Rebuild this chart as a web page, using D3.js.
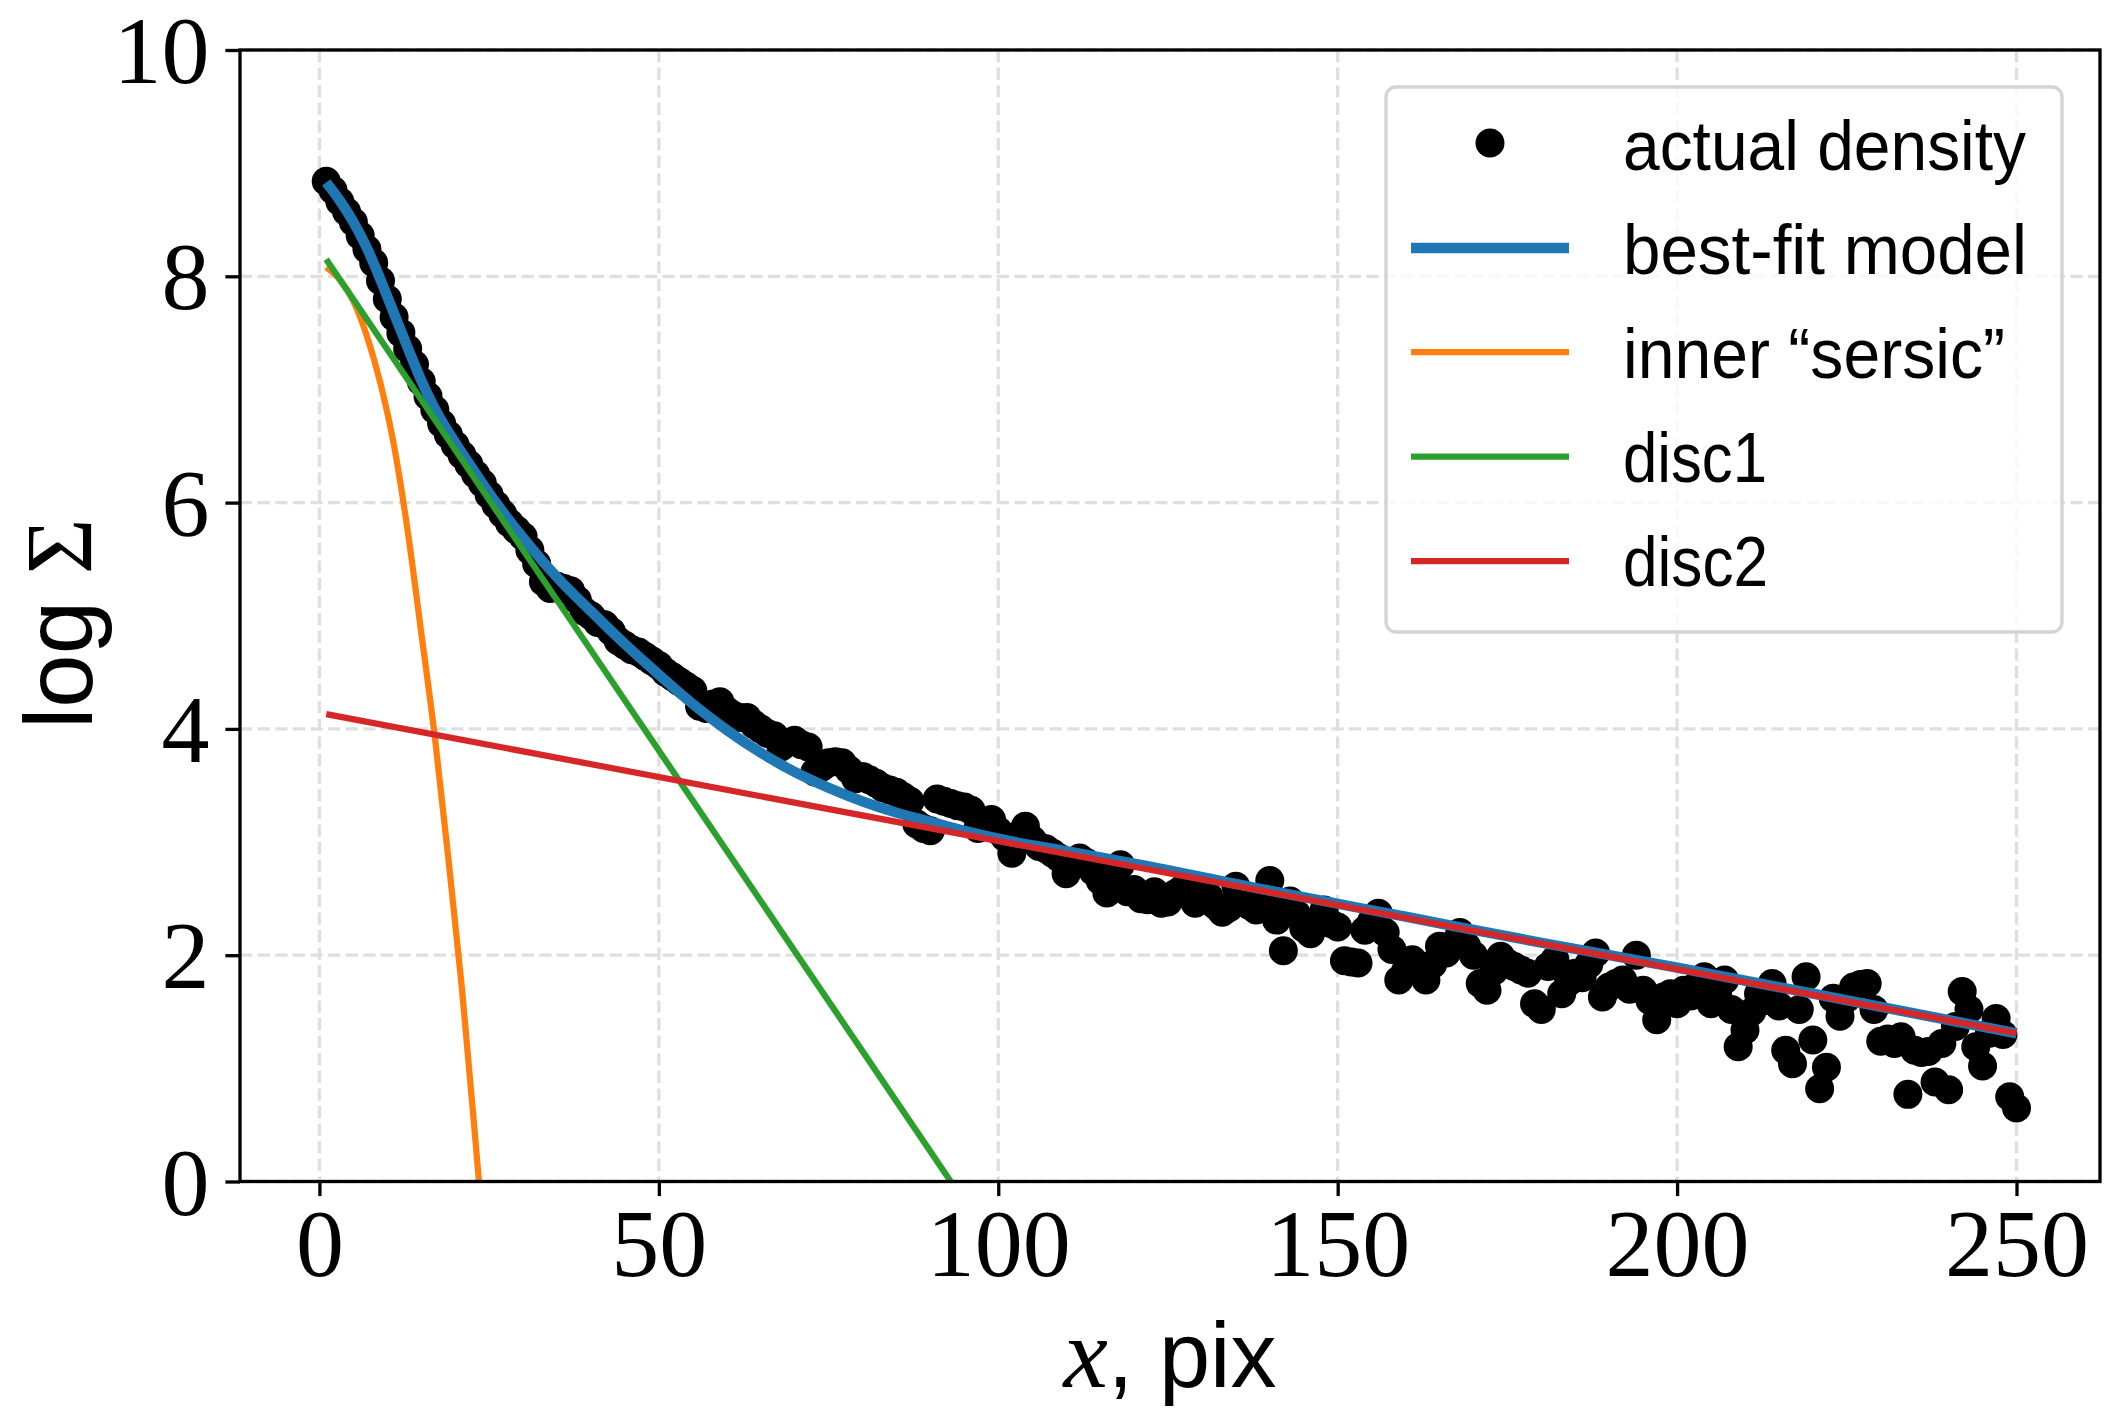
<!DOCTYPE html>
<html><head><meta charset="utf-8">
<script src="https://cdn.jsdelivr.net/npm/d3@7"></script>
<style>body{margin:0;background:#fff;} svg{display:block;}</style>
</head><body>
<script>
// ---------- data ----------
const xTicks = [0, 50, 100, 150, 200, 250];
const yTicks = [0, 2, 4, 6, 8, 10];
const legendLabels = ["actual density", "best-fit model", "inner \u201csersic\u201d", "disc1", "disc2"];

// measured log surface density at pixel positions 1..250
const densityX = d3.range(1, 251);
const densityY = [
  8.84, 8.76, 8.66, 8.57, 8.48, 8.36, 8.24, 8.12, 7.96, 7.80,
  7.64, 7.50, 7.36, 7.22, 7.07, 6.94, 6.82, 6.70, 6.60, 6.51,
  6.42, 6.34, 6.25, 6.17, 6.07, 5.98, 5.90, 5.82, 5.76, 5.70,
  5.58, 5.46, 5.30, 5.24, 5.26, 5.24, 5.22, 5.14, 5.04, 5.00,
  4.94, 4.92, 4.86, 4.78, 4.74, 4.70, 4.68, 4.64, 4.60, 4.56,
  4.50, 4.46, 4.42, 4.38, 4.34, 4.20, 4.18, 4.22, 4.24, 4.16,
  4.12, 4.10, 4.10, 4.04, 4.00, 3.96, 3.94, 3.84, 3.88, 3.90,
  3.86, 3.84, 3.62, 3.66, 3.70, 3.71, 3.70, 3.64, 3.56, 3.58,
  3.55, 3.52, 3.48, 3.46, 3.44, 3.40, 3.36, 3.16, 3.12, 3.10,
  3.38, 3.36, 3.34, 3.32, 3.31, 3.28, 3.12, 3.18, 3.20, 3.10,
  3.04, 2.90, 3.06, 3.14, 3.02, 2.96, 2.94, 2.90, 2.86, 2.72,
  2.80, 2.86, 2.82, 2.74, 2.66, 2.55, 2.70, 2.80, 2.56, 2.58,
  2.50, 2.49, 2.56, 2.46, 2.47, 2.54, 2.58, 2.62, 2.46, 2.50,
  2.52, 2.44, 2.38, 2.42, 2.61, 2.52, 2.44, 2.40, 2.46, 2.66,
  2.31, 2.04, 2.48, 2.36, 2.24, 2.19, 2.30, 2.40, 2.28, 2.25,
  1.95, 1.94, 1.93, 2.22, 2.30, 2.37, 2.20, 2.05, 1.78, 1.86,
  1.96, 1.90, 1.78, 1.92, 2.08, 2.02, 2.10, 2.20, 2.08, 2.00,
  1.75, 1.69, 1.86, 1.99, 1.93, 1.90, 1.87, 1.84, 1.57, 1.52,
  1.90, 1.96, 1.66, 1.76, 1.84, 1.80, 1.92, 2.02, 1.63, 1.72,
  1.75, 1.78, 1.70, 2.00, 1.69, 1.60, 1.43, 1.63, 1.66, 1.57,
  1.69, 1.64, 1.74, 1.81, 1.57, 1.64, 1.78, 1.52, 1.19, 1.34,
  1.50, 1.66, 1.60, 1.75, 1.55, 1.16, 1.04, 1.52, 1.81, 1.25,
  0.82, 1.01, 1.62, 1.46, 1.62, 1.72, 1.74, 1.75, 1.52, 1.24,
  1.26, 1.22, 1.28, 0.77, 1.16, 1.14, 1.15, 0.88, 1.22, 0.81,
  1.37, 1.68, 1.52, 1.19, 1.02, 1.31, 1.44, 1.30, 0.75, 0.65
];

// best-fit model (total)
const modelX = [1, 3, 5, 7, 9, 11, 13, 15, 17, 20, 23, 26, 30, 35, 40, 45, 50, 55, 60, 65, 70, 75, 80, 85, 90, 95, 100, 110, 120, 140, 160, 180, 200, 220, 250];
const modelY = [8.83, 8.67, 8.48, 8.25, 7.97, 7.67, 7.37, 7.08, 6.83, 6.53, 6.26, 6.00, 5.69, 5.34, 5.04, 4.75, 4.48, 4.22, 3.99, 3.79, 3.62, 3.48, 3.36, 3.26, 3.18, 3.10, 3.03, 2.92, 2.81, 2.57, 2.34, 2.11, 1.89, 1.66, 1.31];

// inner "sersic" component
const sersicX = [1, 3, 5, 7, 9, 11, 13, 15, 17, 19, 21, 23, 24];
const sersicY = [8.08, 7.97, 7.78, 7.47, 7.05, 6.50, 5.75, 4.85, 3.93, 2.85, 1.70, 0.35, -0.35];

// disc1 component
const disc1X = [1, 93, 100];
const disc1Y = [8.15, 0.0, -0.62];

// disc2 component
const disc2X = [1, 250];
const disc2Y = [4.13, 1.31];

// ---------- chart ----------
const W = 2115, H = 1420;
const L = 240, R = 2100, T = 50, B = 1181.5;
const x = d3.scaleLinear().domain([-11.7, 262.3]).range([L, R]);
const y = d3.scaleLinear().domain([0, 10]).range([B, T]);

const svg = d3.select("body").append("svg").attr("width", W).attr("height", H);
svg.append("rect").attr("width", W).attr("height", H).attr("fill", "#fff");
svg.append("defs").append("clipPath").attr("id", "clip")
  .append("rect").attr("x", L).attr("y", T).attr("width", R - L).attr("height", B - T);

// grid
const grid = svg.append("g").attr("stroke", "#dfdfdf").attr("stroke-width", 3.3).attr("stroke-dasharray", "12.3,5.3");
grid.selectAll("line.gx").data(xTicks).join("line").attr("class", "gx")
  .attr("x1", d => x(d)).attr("x2", d => x(d)).attr("y1", T).attr("y2", B);
grid.selectAll("line.gy").data(yTicks).join("line").attr("class", "gy")
  .attr("x1", L).attr("x2", R).attr("y1", d => y(d)).attr("y2", d => y(d));

const plot = svg.append("g").attr("clip-path", "url(#clip)");

plot.selectAll("circle.pt").data(densityY).join("circle").attr("class", "pt")
  .attr("cx", (d, i) => x(densityX[i])).attr("cy", d => y(d)).attr("r", 14.5).attr("fill", "#000");

function drawLine(xs, ys, color, width, curve) {
  const pts = xs.map((v, i) => [v, ys[i]]);
  plot.append("path").datum(pts)
    .attr("d", d3.line().x(d => x(d[0])).y(d => y(d[1])).curve(curve))
    .attr("fill", "none").attr("stroke", color).attr("stroke-width", width)
    .attr("stroke-linejoin", "round");
}
drawLine(modelX, modelY, "#1f77b4", 10.4, d3.curveMonotoneX);
drawLine(sersicX, sersicY, "#ff7f0e", 6.25, d3.curveMonotoneX);
drawLine(disc1X, disc1Y, "#2ca02c", 6.25, d3.curveLinear);
drawLine(disc2X, disc2Y, "#d62728", 6.25, d3.curveLinear);

// axes
const xAxis = svg.append("g").attr("transform", `translate(0,${B})`)
  .call(d3.axisBottom(x).tickValues(xTicks).tickSize(14.6).tickPadding(12).tickFormat(d3.format("d")));
const yAxis = svg.append("g").attr("transform", `translate(${L},0)`)
  .call(d3.axisLeft(y).tickValues(yTicks).tickSize(14.6).tickPadding(16).tickFormat(d3.format("d")));
[xAxis, yAxis].forEach(a => {
  a.select(".domain").remove();
  a.selectAll(".tick line").attr("stroke", "#000").attr("stroke-width", 3.3);
  a.selectAll(".tick text").attr("fill", "#000")
    .style("font-family", "'Liberation Serif', 'DejaVu Serif', serif").style("font-size", "96px");
});
yAxis.selectAll(".tick text").attr("dy", "0.34em");

// spines
svg.append("rect").attr("x", L).attr("y", T).attr("width", R - L).attr("height", B - T)
  .attr("fill", "none").attr("stroke", "#000").attr("stroke-width", 3.3);

// axis labels
const xl = svg.append("text").attr("x", (L + R) / 2).attr("y", 1387).attr("text-anchor", "middle")
  .style("font-size", "92px").style("font-family", "'Liberation Sans', sans-serif");
xl.append("tspan").text("x").style("font-family", "'Liberation Serif', serif").style("font-style", "italic").style("font-size", "100px");
xl.append("tspan").text(", pix");

const yl = svg.append("text").attr("transform", `translate(92,${(T + B) / 2 + 8}) rotate(-90)`)
  .attr("text-anchor", "middle")
  .style("font-size", "96px").style("font-family", "'Liberation Sans', sans-serif");
yl.append("tspan").text("log ");
yl.append("tspan").text("\u03a3").style("font-family", "'Liberation Serif', serif");

// legend
const lg = svg.append("g");
lg.append("rect").attr("x", 1386).attr("y", 87).attr("width", 676).attr("height", 545)
  .attr("rx", 10).attr("ry", 10).attr("fill", "#fff").attr("fill-opacity", 0.8)
  .attr("stroke", "#d4d4d4").attr("stroke-width", 3.3);
const rowY = [143, 248, 352, 456.6, 561];
const baseY = [170, 274, 377.5, 481.7, 586];
const textW = [403, 404, 382, 144, 145];
const colors = [null, "#1f77b4", "#ff7f0e", "#2ca02c", "#d62728"];
const widths = [0, 10.4, 6.25, 6.25, 6.25];
legendLabels.forEach((lab, i) => {
  if (i === 0) {
    lg.append("circle").attr("cx", 1490).attr("cy", rowY[i]).attr("r", 14.5).attr("fill", "#000");
  } else {
    lg.append("line").attr("x1", 1411).attr("x2", 1569).attr("y1", rowY[i]).attr("y2", rowY[i])
      .attr("stroke", colors[i]).attr("stroke-width", widths[i]);
  }
  lg.append("text").attr("x", 1623).attr("y", baseY[i]).text(lab)
    .attr("textLength", textW[i]).attr("lengthAdjust", "spacingAndGlyphs")
    .style("font-size", "71px").style("font-family", "'Liberation Sans', sans-serif").attr("fill", "#000");
});
</script>
</body></html>
